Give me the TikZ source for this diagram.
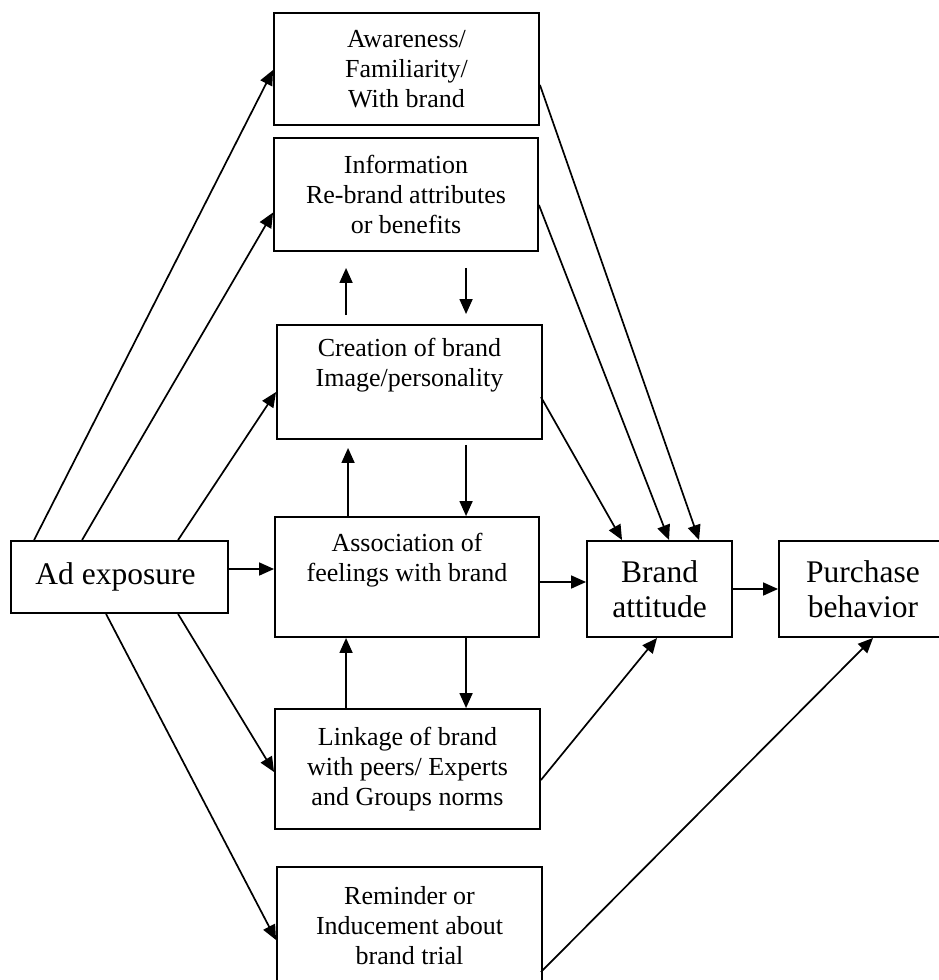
\documentclass[tikz,border=0pt]{standalone}
\usepackage{fontspec}
\setmainfont{Liberation Serif}
\usetikzlibrary{arrows.meta,calc}
\begin{document}
\begin{tikzpicture}[x=1pt,y=-1pt,
  box/.style={draw, line width=1.9pt, rectangle, inner sep=0pt, align=center,
    font=\fontsize{26}{30}\selectfont},
  bigbox/.style={box, font=\fontsize{31.5}{35}\selectfont},
  arr/.style={line width=1.7pt, -{Triangle[length=15pt,width=13pt]}}]
\useasboundingbox (0,0) rectangle (939,980);
% boxes
\node[box, minimum width=265pt, minimum height=112pt] (aw) at (406.5,69) {Awareness/\\Familiarity/\\With brand};
\node[box, minimum width=264pt, minimum height=113pt] (inf) at (406,194.5) {Information\\Re-brand attributes\\or benefits};
\node[box, minimum width=265pt, minimum height=114pt] (cre) at (409.5,382) {Creation of brand\\Image/personality\\\strut};
\node[box, minimum width=264pt, minimum height=120pt] (asc) at (407,577) {Association of\\feelings with brand\\\strut};
\node[box, minimum width=265pt, minimum height=120pt] (lnk) at (407.5,769) {Linkage of brand\\with peers/ Experts\\and Groups norms};
\node[box, minimum width=265pt, minimum height=118pt] (rem) at (409.5,926) {Reminder or\\Inducement about\\brand trial};
\node[bigbox, minimum width=217pt, minimum height=72pt] (ad) at (119.5,577) {Ad exposure\hspace{8pt}};
\node[bigbox, minimum width=145pt, minimum height=96pt] (ba) at (659.5,589) {Brand\\attitude};
\node[bigbox, minimum width=168pt, minimum height=96pt] (pb) at (863,589) {Purchase\\behavior};
% from ad exposure
\draw[arr] ($(ad.north west)+(24,0)$) -- ($(aw.west)+(0,1)$);
\draw[arr] ($(ad.north west)+(72,0)$) -- ($(inf.west)+(0,18)$);
\draw[arr] ($(ad.north west)+(168,0)$) -- ($(cre.west)+(0,10)$);
\draw[arr] ($(ad.east)+(0,-8)$) -- ($(asc.west)+(0,-8)$);
\draw[arr] ($(ad.south west)+(168,0)$) -- ($(lnk.west)+(0,3)$);
\draw[arr] ($(ad.south west)+(96,0)$) -- ($(rem.west)+(0,14)$);
% vertical arrows
\draw[arr, shorten <=9pt, shorten >=16pt] ($(cre.north west)+(70,0)$) -- ($(inf.south west)+(73,0)$);
\draw[arr, shorten <=16pt, shorten >=10pt] ($(inf.south west)+(193,0)$) -- ($(cre.north west)+(190,0)$);
\draw[arr, shorten >=8pt] ($(asc.north west)+(74,0)$) -- ($(cre.south west)+(72,0)$);
\draw[arr, shorten <=5pt] ($(cre.south west)+(190,0)$) -- ($(asc.north west)+(192,0)$);
\draw[arr] ($(lnk.north west)+(72,0)$) -- ($(asc.south west)+(72,0)$);
\draw[arr] ($(asc.south west)+(192,0)$) -- ($(lnk.north west)+(192,0)$);
% to brand attitude
\draw[arr] ($(asc.east)+(0,5)$) -- ($(ba.west)+(0,-7)$);
\draw[arr] (ba.east) -- (pb.west);
\draw[arr] ($(aw.east)+(0,16)$) -- ($(ba.north west)+(113,0)$);
\draw[arr] ($(inf.east)+(0,10.5)$) -- ($(ba.north west)+(83,0)$);
\draw[arr] ($(cre.east)+(-2,15)$) -- ($(ba.north west)+(36,0)$);
\draw[arr] ($(lnk.east)+(0,11)$) -- ($(ba.south west)+(71,0)$);
\draw[arr] ($(rem.east)+(-2,46)$) -- ($(pb.south west)+(95,0)$);
\end{tikzpicture}
\end{document}
